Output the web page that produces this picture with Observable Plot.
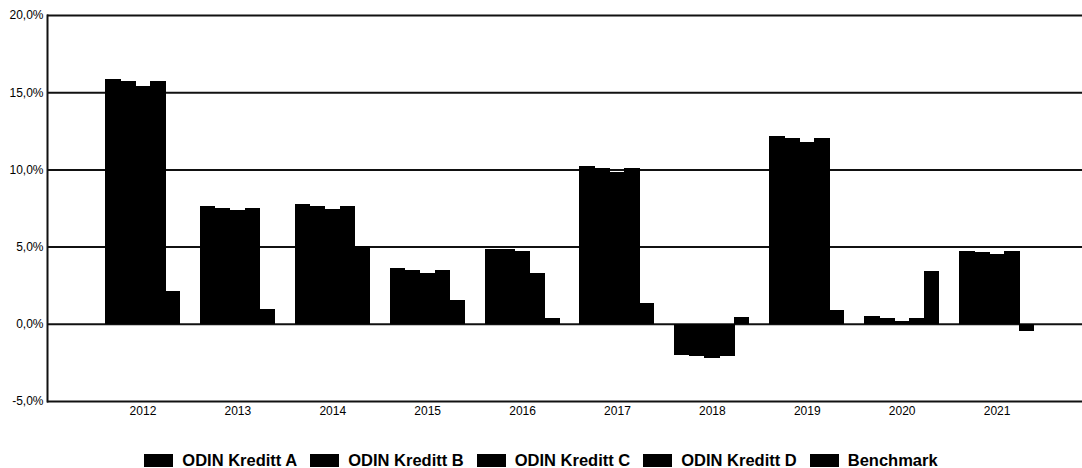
<!DOCTYPE html>
<html>
<head>
<meta charset="utf-8">
<script src="https://cdn.jsdelivr.net/npm/d3@7"></script>
<script src="https://cdn.jsdelivr.net/npm/@observablehq/plot@0.6"></script>
<style>
  html, body { margin: 0; padding: 0; background: #fff; }
  body { position: relative; width: 1082px; height: 468px; overflow: hidden; font-family: "Liberation Sans", Arial, sans-serif; }
  #legend { position: absolute; top: 451px; left: 0; width: 1082px; display: flex; justify-content: center; align-items: center;
            font-weight: bold; font-size: 16.5px; line-height: 19px; color: #000; }
  .item { display: flex; align-items: center; margin-right: 13px; }
  .item:last-child { margin-right: 0; }
  .sw { width: 29px; height: 13px; background: #000; margin-right: 9px; }
</style>
</head>
<body>
<div id="chart"></div>
<div id="legend"></div>
<script>
const years = ["2012", "2013", "2014", "2015", "2016", "2017", "2018", "2019", "2020", "2021"];
const seriesNames = ["ODIN Kreditt A", "ODIN Kreditt B", "ODIN Kreditt C", "ODIN Kreditt D", "Benchmark"];
const kredittA = [15.84, 7.62, 7.79, 3.61, 4.85, 10.21, -2.01, 12.16, 0.52, 4.71];
const kredittB = [15.71, 7.47, 7.66, 3.50, 4.85, 10.06, -2.10, 12.05, 0.39, 4.63];
const kredittC = [15.39, 7.34, 7.42, 3.29, 4.74, 9.84, -2.19, 11.79, 0.15, 4.52];
const kredittD = [15.71, 7.47, 7.66, 3.50, 3.31, 10.06, -2.10, 12.01, 0.39, 4.71];
const benchmark = [2.12, 0.93, 5.02, 1.53, 0.36, 1.34, 0.47, 0.91, 3.42, -0.44];
const yTicks = [-5, 0, 5, 10, 15, 20];

const seriesValues = [kredittA, kredittB, kredittC, kredittD, benchmark];
const fmt = v => v.toFixed(1).replace(".", ",") + "%";

const barWidth = 15;
const barMarks = seriesValues.map((vals, i) =>
  Plot.barY(years.map((y, j) => ({year: y, value: vals[j], series: seriesNames[i]})), {
    x: "year", y: "value", fill: "#000", shapeRendering: "crispEdges",
    insetLeft: barWidth * i, insetRight: barWidth * (4 - i) - (i < 4 ? 0.6 : 0)
  })
);

const chart = Plot.plot({
  width: 1082,
  height: 440,
  marginLeft: 47,
  marginRight: 0,
  marginTop: 15,
  marginBottom: 39,
  style: {fontFamily: "'Liberation Sans', Arial, sans-serif", fontSize: "12px", color: "#000", background: "#fff"},
  x: {type: "band", domain: years, range: [95, 1044], round: false, paddingInner: 0.21, paddingOuter: 0.105, label: null},
  y: {domain: [-5, 20], label: null},
  marks: [
    Plot.ruleY(yTicks, {stroke: "#111", strokeWidth: 2}),
    ...barMarks,
    Plot.frame({anchor: "left", stroke: "#111", strokeWidth: 2}),
    Plot.axisY({ticks: yTicks, tickSize: 0, tickPadding: 4, tickFormat: fmt, fontSize: 12}),
    Plot.axisX({tickSize: 0, tickPadding: 5, fontSize: 12})
  ]
});
document.getElementById("chart").appendChild(chart);

const legend = document.getElementById("legend");
seriesNames.forEach(name => {
  const item = document.createElement("div");
  item.className = "item";
  const sw = document.createElement("span");
  sw.className = "sw";
  const tx = document.createElement("span");
  tx.textContent = name;
  item.appendChild(sw);
  item.appendChild(tx);
  legend.appendChild(item);
});
</script>
</body>
</html>
